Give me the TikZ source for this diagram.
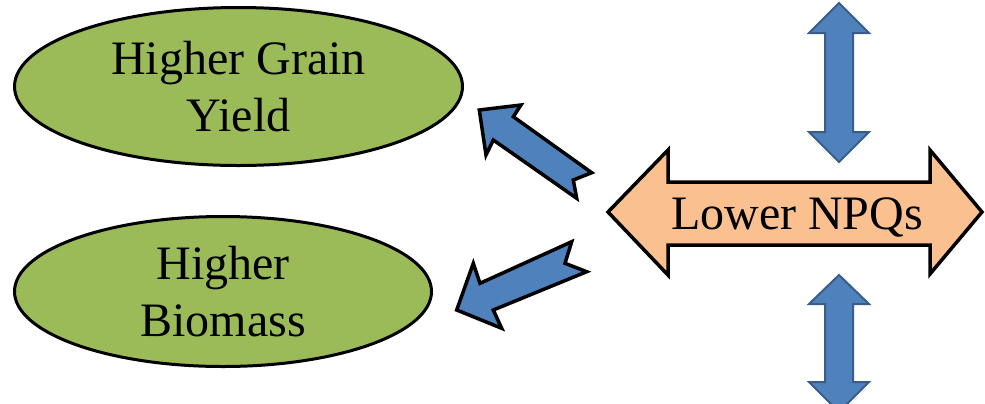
\documentclass[tikz,border=0pt]{standalone}
\usepackage{fontspec}
\setmainfont{Liberation Serif}
\usetikzlibrary{shapes.geometric}
\definecolor{leafgreen}{HTML}{9BBB59}
\definecolor{peach}{HTML}{FAC090}
\definecolor{blockblue}{HTML}{4F81BD}
\definecolor{blockbluedark}{HTML}{385D8A}
\begin{document}
\begin{tikzpicture}[x=0.5pt,y=-0.5pt,
  bigtext/.style={font=\fontsize{24}{28.5}\selectfont},
  oval/.style={ellipse,draw=black,line width=1.5pt,fill=leafgreen,inner sep=0pt,align=center,bigtext},
  bluefat/.style={draw=black,line width=1.75pt,fill=blockblue,line join=miter},
  bluethin/.style={draw=blockbluedark,line width=1pt,fill=blockblue,line join=miter},
  peachbox/.style={draw=black,line width=1.75pt,fill=peach,line join=miter}]
\useasboundingbox (0,0) rectangle (985,403);
\clip (0,0) rectangle (985,403);

% ellipses
\node[oval,minimum width=224pt,minimum height=79pt] (grain) at (238.5,86.5) {Higher Grain\\Yield};
\node[oval,minimum width=208.5pt,minimum height=75pt] (biomass) at (223,291.5) {Higher\\Biomass};

% vertical double arrows
\draw[bluethin] (839,3) -- (869,33) -- (853,33) -- (853,132) -- (869,132) -- (839,162)
  -- (809,132) -- (825,132) -- (825,33) -- (809,33) -- cycle;
\draw[bluethin] (839,275) -- (869,304) -- (853,304) -- (853,382) -- (869,382) -- (839,412)
  -- (809,382) -- (825,382) -- (825,304) -- (809,304) -- cycle;

% horizontal double arrow
\draw[peachbox] (608,212) -- (668,150) -- (668,182) -- (930,182) -- (930,150) -- (982,212)
  -- (930,274) -- (930,245) -- (668,245) -- (668,275) -- cycle;
\node[bigtext,anchor=base,inner sep=0pt] (npq) at (797,229) {Lower NPQs};

% diagonal arrows
\draw[bluefat] (479.3,110) -- (521,105) -- (513.3,116.7) -- (591.7,172.7) -- (573.3,180)
  -- (576.7,198.3) -- (493.3,140) -- (486,155) -- cycle;
\draw[bluefat] (456.7,310) -- (473.3,263.3) -- (480,283.3) -- (571.7,241.7) -- (565,263.3)
  -- (586.7,271.7) -- (493.3,310) -- (501.7,328.3) -- cycle;
\end{tikzpicture}
\end{document}
